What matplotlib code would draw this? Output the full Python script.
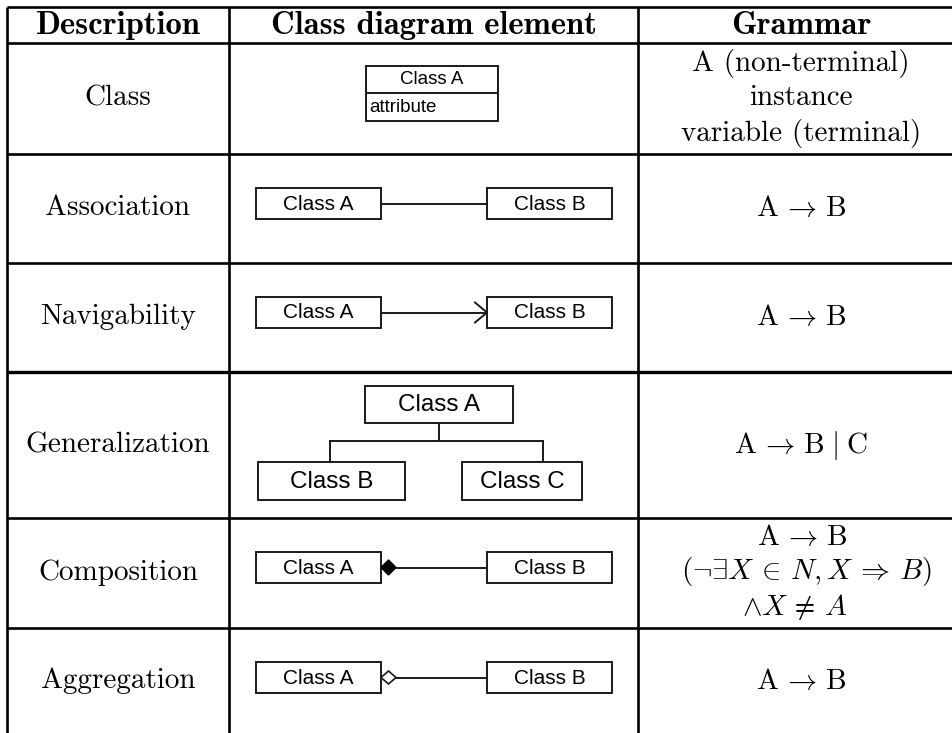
import matplotlib
matplotlib.use("Agg")
import matplotlib.pyplot as plt
from matplotlib.patches import Rectangle, Polygon

plt.rcParams['mathtext.fontset'] = 'cm'
plt.rcParams['axes.unicode_minus'] = False

# ---- table content ----
headers = ["Description", "Class diagram element", "Grammar"]
descriptions = ["Class", "Association", "Navigability", "Generalization",
                "Composition", "Aggregation"]
grammar = [
    ["A (non-terminal)", "instance", "variable (terminal)"],
    [r"$\mathrm{A} \,\rightarrow\, \mathrm{B}$"],
    [r"$\mathrm{A} \,\rightarrow\, \mathrm{B}$"],
    [r"$\mathrm{A} \,\rightarrow\, \mathrm{B} \;|\; \mathrm{C}$"],
    [r"$\mathrm{A} \,\rightarrow\, \mathrm{B}$",
     r"$(\neg\exists X \,\in\, N, X \,\Rightarrow\, B)$",
     r"$\wedge X \,\neq\, A$"],
    [r"$\mathrm{A} \,\rightarrow\, \mathrm{B}$"],
]
uml_names = ["Class A", "Class B", "Class C"]
attr_name = "attribute"

# ---- layout (pixels) ----
W, H = 952, 733
col_x = [7, 229, 638]
row_y = [7, 43, 154, 263, 372, 518, 628]
row_centers = [98.5, 208, 317, 445, 573, 681]

fig = plt.figure(figsize=(W / 100, H / 100), dpi=100)
ax = fig.add_axes([0, 0, 1, 1])
ax.set_xlim(0, W)
ax.set_ylim(H, 0)
ax.axis('off')

LW = 1.9
for x in col_x:
    ax.plot([x, x], [row_y[0], H], color='black', lw=LW, solid_capstyle='butt')
for i, y in enumerate(row_y):
    ax.plot([col_x[0], W], [y, y], color='black', lw=2.4 if i == 4 else LW,
            solid_capstyle='butt')

serif = ['cmr10', 'DejaVu Serif']
serif_b = ['cmb10', 'DejaVu Serif']
FS = 21
col_centers = [118, 433.5, 801]
for cx, h in zip(col_centers, headers):
    ax.text(cx, 25, h, family=serif_b, fontsize=23.5, ha='center', va='center')

for cy, d in zip(row_centers, descriptions):
    ax.text(col_centers[0], cy, d, family=serif, fontsize=FS, ha='center', va='center')

grammar_centers = [98, 208, 317, 445, 572, 681]
grammar_x = {4: [802, 806, 795]}
for r, (cy, lines) in enumerate(zip(grammar_centers, grammar)):
    n = len(lines)
    for k, t in enumerate(lines):
        y = cy + (k - (n - 1) / 2) * 35
        x = grammar_x.get(r, [col_centers[2]] * n)[k]
        if t.startswith('$'):
            ax.text(x, y, t, fontsize=FS, ha='center', va='center')
        else:
            ax.text(x, y, t, family=serif, fontsize=FS, ha='center', va='center')

sans = ['Liberation Sans', 'DejaVu Sans']
BOXC = '#1a1a1a'
BLW = 1.4


def box(x0, y0, x1, y1, label, fs=15):
    ax.add_patch(Rectangle((x0, y0), x1 - x0, y1 - y0, fill=False,
                           edgecolor=BOXC, lw=BLW))
    ax.text((x0 + x1) / 2, (y0 + y1) / 2 + 0.5, label, family=sans, fontsize=fs,
            ha='center', va='center')


# Class row
ax.add_patch(Rectangle((366, 66), 132, 55, fill=False, edgecolor=BOXC, lw=BLW))
ax.plot([366, 498], [93, 93], color=BOXC, lw=BLW)
ax.text(432, 80, uml_names[0], family=sans, fontsize=13.5, ha='center', va='center')
ax.text(369, 107.5, attr_name, family=sans, fontsize=13.5, ha='left', va='center')


def pair(y0, y1):
    box(256, y0, 381, y1, uml_names[0])
    box(487, y0, 612, y1, uml_names[1])
    return (y0 + y1) / 2


# Association
cy = pair(188, 219)
ax.plot([381, 487], [cy, cy], color=BOXC, lw=BLW)

# Navigability
cy = pair(297, 328)
ax.plot([381, 487], [cy, cy], color=BOXC, lw=BLW)
ax.plot([475, 487, 475], [cy - 10, cy, cy + 10], color=BOXC, lw=BLW)

# Generalization
box(365, 386, 513, 423, uml_names[0], fs=17.5)
box(258, 462, 405, 500, uml_names[1], fs=17.5)
box(462, 462, 582, 500, uml_names[2], fs=17.5)
ax.plot([439, 439], [423, 441], color=BOXC, lw=BLW)
ax.plot([330, 543], [441, 441], color=BOXC, lw=BLW)
ax.plot([330, 330], [441, 462], color=BOXC, lw=BLW)
ax.plot([543, 543], [441, 462], color=BOXC, lw=BLW)

# Composition
cy = pair(552, 583)
ax.plot([396, 487], [cy, cy], color=BOXC, lw=BLW)
ax.add_patch(Polygon([[381, cy], [388.5, cy - 7.5], [396, cy], [388.5, cy + 7.5]],
                     closed=True, facecolor='black', edgecolor='black', lw=1))

# Aggregation
cy = pair(662, 693)
ax.plot([396, 487], [cy, cy], color=BOXC, lw=BLW)
ax.add_patch(Polygon([[381, cy], [388.5, cy - 6.5], [396, cy], [388.5, cy + 6.5]],
                     closed=True, facecolor='white', edgecolor=BOXC, lw=1.2))

fig.savefig("out.png", dpi=100)
